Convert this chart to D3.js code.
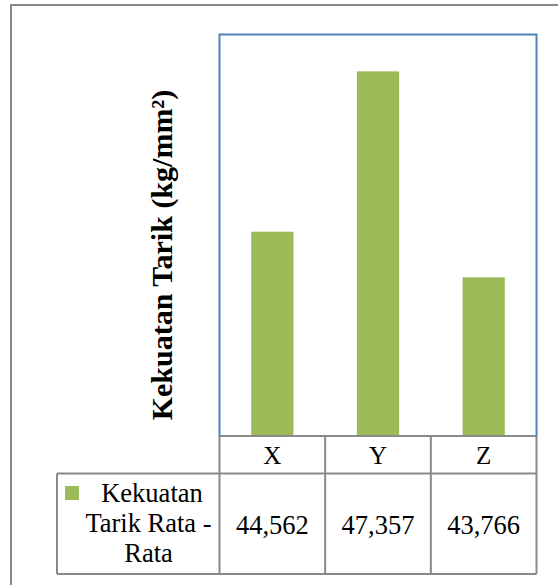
<!DOCTYPE html>
<html><head><meta charset="utf-8">
<script src="https://cdn.jsdelivr.net/npm/d3@7/dist/d3.min.js"></script>
<style>body{margin:0;background:#fff}svg{display:block}</style>
</head><body>
<script>
const categories = ["X", "Y", "Z"];
const values = [44.562, 47.357, 43.766];
const valueLabels = ["44,562", "47,357", "43,766"];
const seriesName = ["Kekuatan", "Tarik Rata -", "Rata"];
const axisTitle = "Kekuatan Tarik (kg/mm²)";
const yDomain = [41, 48];

const W = 558, H = 585;
const svg = d3.select("body").append("svg").attr("width", W).attr("height", H);
const serif = "'Liberation Serif','Times New Roman',serif";
const gray = "#898989";

// outer chart border
svg.append("rect").attr("x", 11).attr("y", 5).attr("width", 600).attr("height", 600)
  .attr("fill", "#fff").attr("stroke", gray).attr("stroke-width", 2);

const plot = {left: 219.5, right: 536.5, top: 34.5, bottom: 436};
const x = d3.scaleBand().domain(categories).range([plot.left, plot.right]).paddingInner(0.6).paddingOuter(0.3);
const xCell = d3.scaleBand().domain(categories).range([plot.left, plot.right]);
const y = d3.scaleLinear().domain(yDomain).range([plot.bottom, plot.top]);

// bars
svg.append("g").selectAll("rect").data(values).join("rect")
  .attr("x", (d, i) => x(categories[i]))
  .attr("width", x.bandwidth())
  .attr("y", d => y(d))
  .attr("height", d => y(yDomain[0]) - y(d))
  .attr("fill", "#9BBB59");

// plot area border
svg.append("rect").attr("x", plot.left).attr("y", plot.top)
  .attr("width", plot.right - plot.left).attr("height", plot.bottom - plot.top)
  .attr("fill", "none").attr("stroke", "#4F81BD").attr("stroke-width", 2);

// axis title
svg.append("text").attr("transform", `translate(172,${(88 + 422) / 2}) rotate(-90)`)
  .attr("text-anchor", "middle").attr("font-family", serif).attr("font-weight", "bold")
  .attr("font-size", 30).attr("fill", "#000").text(axisTitle);

// data table
const row1 = [plot.bottom, 473.5], row2 = [473.5, 574];
const tableLeft = 57;
const g = svg.append("g").attr("stroke", gray).attr("stroke-width", 2).attr("fill", "none");
// horizontal lines
g.append("line").attr("x1", plot.left).attr("x2", plot.right).attr("y1", row1[0]).attr("y2", row1[0]);
g.append("line").attr("x1", tableLeft).attr("x2", plot.right).attr("y1", row2[0]).attr("y2", row2[0]);
g.append("line").attr("x1", tableLeft).attr("x2", plot.right).attr("y1", row2[1]).attr("y2", row2[1]);
// vertical lines
const vx = categories.map(c => xCell(c)).concat([plot.right]);
vx.forEach(v => g.append("line").attr("x1", v).attr("x2", v).attr("y1", row1[0]).attr("y2", row2[1]));
g.append("line").attr("x1", tableLeft).attr("x2", tableLeft).attr("y1", row2[0]).attr("y2", row2[1]);

// header labels
svg.append("g").selectAll("text").data(categories).join("text")
  .attr("x", d => xCell(d) + xCell.bandwidth() / 2).attr("y", 464)
  .attr("text-anchor", "middle").attr("font-family", serif).attr("font-size", 25).attr("fill", "#000")
  .text(d => d);

// values
svg.append("g").selectAll("text").data(valueLabels).join("text")
  .attr("x", (d, i) => xCell(categories[i]) + xCell.bandwidth() / 2).attr("y", 533.5)
  .attr("text-anchor", "middle").attr("font-family", serif).attr("font-size", 26.5).attr("fill", "#000")
  .text(d => d);

// legend key and series name
svg.append("rect").attr("x", 65).attr("y", 486).attr("width", 14).attr("height", 14).attr("fill", "#9BBB59");
const centers = [152, 148.5, 148.5];
svg.append("g").selectAll("text").data(seriesName).join("text")
  .attr("x", (d, i) => centers[i]).attr("y", (d, i) => 501.7 + i * 30)
  .attr("text-anchor", "middle").attr("font-family", serif).attr("font-size", 26.5).attr("fill", "#000")
  .text(d => d);
</script>
</body></html>
